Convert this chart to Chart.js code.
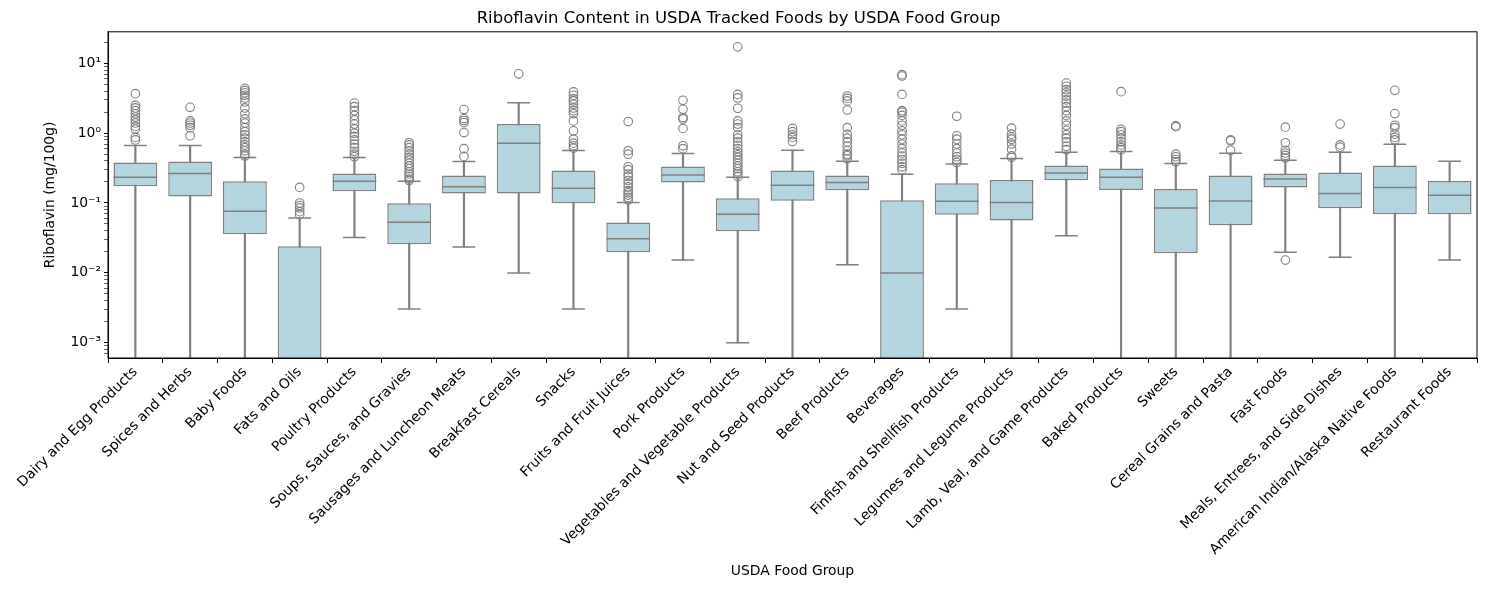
<!DOCTYPE html>
<html>
<head>
<meta charset="utf-8">
<script src="https://cdn.jsdelivr.net/npm/chart.js@4"></script>
<style>
  html, body { margin: 0; padding: 0; background: #fff; }
  #wrap { width: 1485px; height: 590px; }
</style>
</head>
<body>
<div id="wrap"><canvas id="boxChart" width="1485" height="590"></canvas></div>
<script>
const groups = [
  'Dairy and Egg Products', 'Spices and Herbs', 'Baby Foods', 'Fats and Oils', 'Poultry Products',
  'Soups, Sauces, and Gravies', 'Sausages and Luncheon Meats', 'Breakfast Cereals', 'Snacks',
  'Fruits and Fruit Juices', 'Pork Products', 'Vegetables and Vegetable Products', 'Nut and Seed Products',
  'Beef Products', 'Beverages', 'Finfish and Shellfish Products', 'Legumes and Legume Products',
  'Lamb, Veal, and Game Products', 'Baked Products', 'Sweets', 'Cereal Grains and Pasta', 'Fast Foods',
  'Meals, Entrees, and Side Dishes', 'American Indian/Alaska Native Foods', 'Restaurant Foods'
];

// box stats (mg/100g), 0 = goes down to zero
const q1 = [0.173, 0.124, 0.0357, 0, 0.147, 0.0257, 0.137, 0.137, 0.099, 0.0197, 0.197, 0.0394, 0.108,
  0.152, 0, 0.068, 0.056, 0.211, 0.153, 0.0191, 0.048, 0.167, 0.084, 0.069, 0.069];
const medians = [0.233, 0.265, 0.076, 0.0003, 0.204, 0.053, 0.171, 0.72, 0.162, 0.0306, 0.251, 0.069, 0.179,
  0.197, 0.0099, 0.106, 0.102, 0.268, 0.233, 0.0849, 0.107, 0.22, 0.137, 0.167, 0.129];
const q3 = [0.381, 0.393, 0.204, 0.024, 0.265, 0.099, 0.248, 1.35, 0.293, 0.0524, 0.334, 0.117, 0.293,
  0.248, 0.109, 0.191, 0.213, 0.345, 0.313, 0.158, 0.248, 0.265, 0.274, 0.345, 0.206];
const whiskerLow = [0, 0, 0, 0, 0.032, 0.00303, 0.0233, 0.0099, 0.00303, 0, 0.0152, 0.00099, 0,
  0.013, 0, 0.00303, 0, 0.0338, 0, 0, 0, 0.0197, 0.0167, 0, 0.0152];
const whiskerHigh = [0.667, 0.667, 0.449, 0.061, 0.449, 0.204, 0.393, 2.74, 0.565, 0.102, 0.513, 0.233, 0.571,
  0.396, 0.257, 0.361, 0.435, 0.535, 0.547, 0.369, 0.518, 0.411, 0.535, 0.697, 0.396];

const outliers = [
  [3.69, 2.5, 2.3, 2.1, 1.9, 1.7, 1.55, 1.4, 1.25, 1.15, 0.87, 0.8],
  [2.35, 1.5, 1.4, 1.3, 1.2, 0.92],
  [4.4, 4.1, 3.8, 3.5, 3.2, 2.8, 2.3, 1.9, 1.6, 1.4, 1.2, 1.05, 0.95, 0.85, 0.75, 0.68, 0.62, 0.56, 0.5, 0.47],
  [0.167, 0.1, 0.092, 0.085, 0.075, 0.068],
  [2.7, 2.4, 2.1, 1.8, 1.55, 1.35, 1.15, 1.0, 0.9, 0.8, 0.7, 0.62, 0.55, 0.5, 0.46],
  [0.73, 0.68, 0.62, 0.56, 0.5, 0.45, 0.41, 0.37, 0.34, 0.31, 0.28, 0.26, 0.24, 0.22, 0.21],
  [2.18, 1.62, 1.52, 1.42, 1.02, 0.6, 0.465],
  [7.1],
  [3.9, 3.5, 3.1, 2.9, 2.6, 2.3, 2.1, 1.9, 1.5, 1.08, 0.82, 0.72, 0.66, 0.61],
  [1.47, 0.56, 0.5, 0.33, 0.3, 0.26, 0.24, 0.21, 0.19, 0.17, 0.15, 0.14, 0.13, 0.12, 0.11],
  [2.96, 2.2, 1.68, 1.6, 1.17, 0.66, 0.6],
  [17.3, 3.6, 3.2, 2.27, 1.5, 1.35, 1.2, 0.95, 0.85, 0.75, 0.67, 0.6, 0.54, 0.49, 0.45, 0.41, 0.37, 0.34, 0.31, 0.28, 0.26, 0.24],
  [1.17, 1.05, 0.95, 0.87, 0.76],
  [3.41, 3.15, 2.9, 2.15, 1.2, 0.97, 0.85, 0.75, 0.65, 0.56, 0.5, 0.475, 0.43],
  [6.9, 6.6, 3.6, 2.1, 2.0, 1.8, 1.5, 1.3, 1.08, 0.95, 0.82, 0.7, 0.6, 0.52, 0.47, 0.42, 0.37, 0.33, 0.3],
  [1.75, 0.92, 0.82, 0.7, 0.6, 0.52, 0.46, 0.42, 0.38],
  [1.18, 0.97, 0.88, 0.82, 0.7, 0.59, 0.475, 0.45],
  [5.23, 4.7, 4.2, 3.8, 3.4, 3.0, 2.7, 2.4, 2.1, 1.8, 1.5, 1.3, 1.1, 0.95, 0.85, 0.75, 0.65, 0.58],
  [3.94, 1.14, 1.05, 0.95, 0.85, 0.75, 0.68, 0.62, 0.58],
  [1.27, 1.24, 0.5, 0.46, 0.42, 0.39],
  [0.8, 0.78, 0.57],
  [1.22, 0.73, 0.57, 0.52, 0.48, 0.44, 0.0152],
  [1.35, 0.68, 0.63],
  [4.11, 1.91, 1.3, 1.2, 0.97, 0.87, 0.8],
  []
];

const yMin = 0.00064, yMax = 28.4;
// zero can't sit on a log axis, so push it below the visible range
const floorZero = v => (v > 0 ? v : 1e-5);

const boxFill = 'rgb(179, 213, 224)';
const lineGrey = 'rgb(128, 128, 128)';
const fontFam = "'DejaVu Sans', sans-serif";

const sup = { '-': '\u207B', '0': '\u2070', '1': '\u00B9', '2': '\u00B2', '3': '\u00B3', '4': '\u2074' };
function powLabel(exp) {
  return '10' + String(exp).split('').map(c => sup[c]).join('');
}

const framePlugin = {
  id: 'frame',
  afterDraw(chart) {
    const a = chart.chartArea, ctx = chart.ctx;
    ctx.save();
    ctx.strokeStyle = '#000';
    ctx.lineWidth = 1;
    ctx.strokeRect(a.left, a.top, a.right - a.left, a.bottom - a.top);
    ctx.restore();
  }
};

const flierPoints = [];
outliers.forEach((vals, i) => vals.forEach(v => flierPoints.push({ x: groups[i], y: v })));

new Chart(document.getElementById('boxChart').getContext('2d'), {
  data: {
    labels: groups,
    datasets: [
      {
        type: 'bar', label: 'whiskers',
        data: groups.map((g, i) => [floorZero(whiskerLow[i]), whiskerHigh[i]]),
        backgroundColor: lineGrey, borderWidth: 0,
        barThickness: 1.5, grouped: false, order: 3
      },
      {
        type: 'bar', label: 'boxes',
        data: groups.map((g, i) => [floorZero(q1[i]), q3[i]]),
        backgroundColor: boxFill, borderColor: lineGrey, borderWidth: 1.5,
        borderSkipped: false, barPercentage: 0.8, categoryPercentage: 1,
        grouped: false, order: 2
      },
      {
        type: 'line', label: 'medians', data: medians, showLine: false,
        pointStyle: 'line', pointRadius: 21.9, pointBorderWidth: 1.5,
        pointBorderColor: lineGrey, order: 1
      },
      {
        type: 'line', label: 'caps', data: whiskerHigh,
        showLine: false, pointStyle: 'line', pointRadius: 11.4, pointBorderWidth: 1.5,
        pointBorderColor: lineGrey, order: 1
      },
      {
        type: 'line', label: 'lowCaps',
        data: whiskerLow.map(v => (v > 0 ? v : null)),
        showLine: false, pointStyle: 'line', pointRadius: 11.4, pointBorderWidth: 1.5,
        pointBorderColor: lineGrey, order: 1
      },
      {
        type: 'line', label: 'fliers', data: flierPoints, showLine: false,
        pointStyle: 'circle', pointRadius: 4.3, pointBorderWidth: 1.1,
        pointBorderColor: lineGrey, pointBackgroundColor: 'rgba(0,0,0,0)', order: 0
      }
    ]
  },
  options: {
    responsive: false,
    animation: false,
    layout: { autoPadding: false, padding: { left: 0, right: 8, top: 0, bottom: 0 } },
    plugins: {
      legend: { display: false },
      tooltip: { enabled: false },
      title: {
        display: true,
        text: 'Riboflavin Content in USDA Tracked Foods by USDA Food Group',
        color: '#000',
        font: { family: fontFam, size: 16.5, weight: 'normal' },
        padding: { top: 9, bottom: 3 }
      }
    },
    scales: {
      x: {
        type: 'category',
        offset: true,
        grid: { display: true, drawOnChartArea: false, drawTicks: true, tickLength: 5, tickColor: '#000', tickWidth: 1 },
        border: { color: '#000', width: 1 },
        ticks: {
          color: '#000', font: { family: fontFam, size: 13.9 },
          maxRotation: 45, minRotation: 45, autoSkip: false, padding: 1
        },
        title: {
          display: true, text: 'USDA Food Group', color: '#000',
          font: { family: fontFam, size: 13.9 }, padding: { top: 10, bottom: 10 }
        },
        afterFit(scale) {
          scale.height = 232;
          scale.paddingLeft = 0;
          scale.paddingRight = 0;
        }
      },
      y: {
        type: 'logarithmic',
        min: yMin, max: yMax,
        grid: {
          display: true, drawOnChartArea: false, drawTicks: true, tickLength: 4, tickColor: '#000',
          tickWidth: ctx => (ctx.tick && ctx.tick.label !== '' ? 1 : 0.6)
        },
        border: { color: '#000', width: 1 },
        afterBuildTicks(scale) {
          const ticks = [];
          for (let e = -4; e <= 1; e++) {
            for (let m = 1; m <= 9; m++) {
              const v = m * Math.pow(10, e);
              if (v >= yMin && v <= yMax) ticks.push({ value: v, major: m === 1 });
            }
          }
          scale.ticks = ticks;
        },
        ticks: {
          color: '#000', font: { family: fontFam, size: 13.9 }, autoSkip: false, padding: 3,
          callback(value) {
            const e = Math.log10(value);
            return Math.abs(e - Math.round(e)) < 1e-9 ? powLabel(Math.round(e)) : '';
          }
        },
        title: {
          display: true, text: 'Riboflavin (mg/100g)', color: '#000',
          font: { family: fontFam, size: 13.9 }, padding: { top: 42, bottom: 42 }
        },
        afterFit(scale) {
          scale.width = 108;
          scale.paddingTop = 0;
          scale.paddingBottom = 0;
        }
      }
    }
  },
  plugins: [framePlugin]
});
</script>
</body>
</html>
